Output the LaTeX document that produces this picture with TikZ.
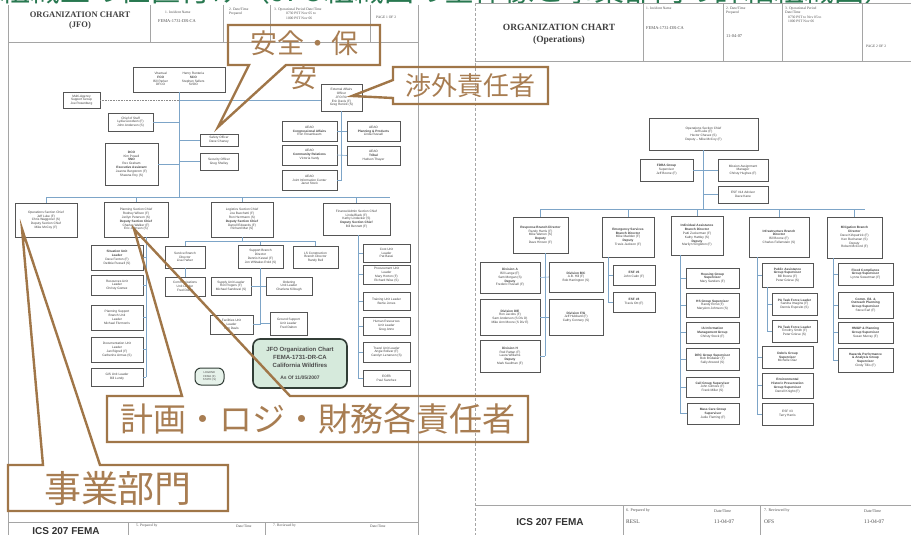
\documentclass[tikz,border=0pt]{standalone}
\usepackage{fontspec}
\setmainfont{Liberation Sans}
\newfontfamily\hdrf{Liberation Serif}
\newfontfamily\cjk{Noto Sans CJK JP}
\definecolor{calb}{RGB}{160,118,72}
\definecolor{calt}{RGB}{168,125,82}
\definecolor{ttlg}{RGB}{40,120,80}
\definecolor{cnb}{RGB}{125,165,200}
\definecolor{boxd}{RGB}{85,85,85}
\definecolor{jfog}{RGB}{214,234,220}
\definecolor{jfod}{RGB}{50,62,55}
\definecolor{pagel}{RGB}{165,165,165}
\newcommand\tinyf{\fontsize{3.2}{3.8}\selectfont}
\newcommand\obox[6]{\node[ob,minimum width={(#4-#2)*1pt},minimum height={(#5-#3)*1pt}] (#1) at ({(#2+#4)/2},{(#3+#5)/2}) {#6};}
\tikzset{
  ob/.style={draw=boxd,line width=0.6,fill=white,font=\tinyf,text=black!75,align=center,inner sep=0.3pt,outer sep=0pt},
  cn/.style={draw=cnb,line width=0.6},
  pg/.style={draw=pagel,line width=0.5},
  cl/.style={draw=calb,line width=2.4,line join=miter},
  ct/.style={text=calt,inner sep=0pt},
  hl/.style={font=\hdrf\fontsize{3.6}{4.2}\selectfont,text=black!70,inner sep=0pt,align=left},
}
\begin{document}
\begin{tikzpicture}
\useasboundingbox (0,0) rectangle (911pt,-535pt);
\begin{scope}[x=1pt,y=-1pt]
\clip (0,0) rectangle (911,535);
\fill[white] (0,0) rectangle (911,535);
% green title (cut off at top)
\node[anchor=base west,text=ttlg,font=\cjk\fontsize{30}{30}\selectfont,inner sep=0] (ttl) at (0,1.5) {組織上の位置付け（JFO組織図の全体像と事業部門の詳細組織図）};

% ---------- left page frame ----------
\draw[pg] (8,5) -- (8,535);
\draw[pg] (418,5) -- (418,535);
\draw[pg] (8,42) -- (418,42);
\foreach \xx in {150,223,270,370} \draw[pg] (\xx,5) -- (\xx,42);
\node[font=\hdrf\bfseries\fontsize{8.5}{10}\selectfont,text=black!75,align=center] (lh1) at (80,21) {ORGANIZATION CHART\\(JFO)};
\node[hl,anchor=north west] (lh2) at (165,11) {1. Incident Name};
\node[hl,anchor=north west,font=\hdrf\fontsize{4.4}{5}\selectfont] (lh3) at (158,19) {FEMA-1731-DR-CA};
\node[hl,anchor=north west] (lh4) at (229,8) {2. Date/Time\\Prepared};
\node[hl,anchor=north west] (lh5) at (274,8) {3. Operational Period Date/Time\\\hspace*{12pt}0730 PST Nov 05 to\\\hspace*{12pt}1000 PST Nov 06};
\node[hl,anchor=north west] (lh6) at (376,16) {PAGE 1 OF 2};
% left footer
\draw[pg] (8,522) -- (418,522);
\draw[pg] (128,522) -- (128,535);
\draw[pg] (265,522) -- (265,535);
\node[anchor=north,font=\bfseries\fontsize{10}{12}\selectfont,text=black!80,inner sep=0] (lf1) at (66,527) {ICS 207 FEMA};
\node[hl,anchor=west] (lf2) at (136,526) {5. Prepared by};
\node[hl,anchor=west] (lf3) at (236,526) {Date/Time};
\node[hl,anchor=west] (lf4) at (273,526) {7. Reviewed by};
\node[hl,anchor=west] (lf5) at (370,526) {Date/Time};

% ---------- left chart ----------
\obox{fco}{133}{67}{225}{92}{\begin{tabular}{@{}c@{\hspace{14pt}}c@{}}Vitactual & Henry Renteria\\ \textbf{FCO} & \textbf{SCO}\\ Bill Parker & Stephen Sellers\\ DFCO & SVDO\end{tabular}}
\obox{mas}{63}{92}{100}{108}{Multi-Agency\\Support Group\\Joe Rosenburg}
\obox{cos}{108}{113}{153}{131}{Chief of Staff\\Lydia Goodson (F)\\John Anderson (S)}
\obox{dco}{105}{143}{158}{185}{\textbf{DCO}\\Kim Powell\\\textbf{SNO}\\Rex Graham\\\textbf{Executive Assistant}\\Jeanne Bergstrom (F)\\Shawna Roy (S)}
\obox{saf}{200}{134}{238}{146}{Safety Officer\\Dave Chaney}
\obox{sec}{200}{153}{238}{170}{Security Officer\\Greg Shelley}
\obox{ext}{321}{84}{362}{111}{External Affairs\\Officer\\JFO Ric\\Eric Davis (F)\\Greg Renick (S)}
\obox{ae1}{282}{121}{337}{141}{AEAO\\\textbf{Congressional Affairs}\\Ron Rosenbaum}
\obox{ae2}{282}{145}{337}{165}{AEAO\\\textbf{Community Relations}\\Victoria Vardy}
\obox{ae3}{282}{170}{337}{190}{AEAO\\Joint Information Center\\Janet Stock}
\obox{ae4}{347}{121}{400}{141}{AEAO\\\textbf{Planning \& Products}\\Linda Russell}
\obox{ae5}{347}{146}{400}{165}{AEAO\\\textbf{Tribal}\\Hudson Thayer}
\obox{opsc}{15}{203}{77}{237}{Operations Section Chief\\Jeff Luke (F)\\Chris Waggoner (S)\\Deputy Section Chief\\Mike McCoy (F)}
\obox{plan}{104}{202}{168}{237}{Planning Section Chief\\Rodney Wilson (F)\\Jerilyn Peterson (S)\\\textbf{Deputy Section Chief}\\Charles Walker (F)\\Eric Johnson (S)}
\obox{logs}{211}{202}{273}{237}{Logistics Section Chief\\Joe Bacchetti (F)\\Ron Herrmann (S)\\\textbf{Deputy Section Chief}\\Darrell Edwards (F)\\Richard Mar (S)}
\obox{fin}{323}{203}{390}{235}{Finance/Admin Section Chief\\Linda Black (F)\\Kathy Lindecker (S)\\\textbf{Deputy Section Chief}\\Bill Bennett (F)}
\obox{sit}{91}{245}{143}{270}{\textbf{Situation Unit}\\\textbf{Leader}\\Dave Fenton (F)\\Debbie Russell (S)}
\obox{res}{91}{275}{143}{295}{Resources Unit\\Leader\\Christy Gomez}
\obox{pss}{91}{305}{143}{330}{Planning Support\\Branch Unit\\Leader\\Michael Fitzmorris}
\obox{doc}{91}{337}{143}{362}{Documentation Unit\\Leader\\Jan Bignell (F)\\Catherine Armas (S)}
\obox{gis}{91}{368}{143}{386}{GIS Unit Leader\\Bill Lundy}
\obox{svc}{165}{246}{205}{268}{Service Branch\\Director\\Lisa Parker}
\obox{sup}{238}{245}{283}{268}{Support Branch\\Director\\Dennis Kessel (F)\\Jon Whitaker-Rold (S)}
\obox{lsc}{293}{246}{338}{268}{LS Construction\\Branch Director\\Randy Bell}
\obox{com}{165}{277}{205}{296}{Communications\\Unit Leader\\Fred Dollar}
\obox{spl}{211}{277}{251}{295}{Supply Unit Leader\\Ron Rogers (F)\\Michael Sandoval (S)}
\obox{ord}{266}{277}{312}{295}{Ordering\\Unit Leader\\Charlene Killough}
\obox{fac}{210}{315}{253}{334}{Facilities Unit\\Leader\\Ken Davis}
\obox{gsu}{270}{312}{307}{335}{Ground Support\\Unit Leader\\Fred Dalton}
\obox{cost}{363}{244}{410}{262}{Cost Unit\\Leader\\Pat Bassi}
\obox{proc}{363}{265}{410}{284}{Procurement Unit\\Leader\\Mary Horton (F)\\Richard Wise (S)}
\obox{trn}{363}{292}{410}{310}{Training Unit Leader\\Bertie Jones}
\obox{hr}{363}{317}{410}{335}{Human Resources\\Unit Leader\\Greg Anno}
\obox{trv}{363}{342}{410}{362}{Travel Unit Leader\\Angie Bolivar (F)\\Carolyn Lenarson (S)}
\obox{eofb}{363}{370}{410}{386}{EOFB\\Paul Sanchez}
\node[draw=jfod,line width=1.6,fill=jfog,rounded corners=7,minimum width=94pt,minimum height=49pt,font=\bfseries\fontsize{6}{7.8}\selectfont,text=black!70,align=center] (jfo) at (300,363.5) {JFO Organization Chart\\FEMA-1731-DR-CA\\California Wildfires\\[4pt]{\fontsize{5}{6}\selectfont As Of 11/05/2007}};
\node[draw=jfod,line width=1,fill=jfog!60,rounded corners=6,minimum width=29pt,minimum height=17pt,font=\fontsize{2.8}{3.4}\selectfont,text=black!70,align=center,inner sep=0] (leg) at (209.5,376.5) {LEGEND\\FEMA (F)\\STATE (S)};

% left connectors
\coordinate (busR) at (390,197);
\draw[cn] (fco.south) -- (fco.south |- busR);
\draw[cn] (cos.east) -- (cos.east -| fco.south);
\draw[cn] (dco.east) -- (dco.east -| fco.south);
\draw[cn] (saf.west) -- (saf.west -| fco.south);
\draw[cn] (sec.west) -- (sec.west -| fco.south);
\draw[cn,densely dotted,draw=black!45] (mas.east) -- (mas.east -| fco.south);
\draw[cn] (fco.south |- mas.east) -- (ext.west |- mas.east);
\draw[cn] (ext.south) -- (ext.south |- ae3.east);
\draw[cn] (ae1.east) -- (ae4.west);
\draw[cn] (ae2.east) -- (ae5.west);
\draw[cn] (ae3.east) -- (ae3.east -| ext.south);
\draw[cn] (opsc.north) |- (busR);
\draw[cn] (plan.north) -- (plan.north |- busR);
\draw[cn] (logs.north) -- (logs.north |- busR);
\draw[cn] (fin.north) -- (fin.north |- busR);
\coordinate (pv) at (146,237);
\draw[cn] (pv) -- (pv |- gis.east);
\foreach \n in {sit,res,pss,doc,gis} \draw[cn] (\n.east) -- (\n.east -| pv);
\coordinate (lbus) at (0,241);
\draw[cn] (logs.south) -- (logs.south |- lbus);
\draw[cn] (svc.north) |- (lsc.north |- lbus) -- (lsc.north);
\draw[cn] (sup.north) -- (sup.north |- lbus);
\draw[cn] (svc.south) -- (com.north);
\draw[cn] (sup.south) -- (sup.south |- fac.east);
\draw[cn] (spl.east) -- (ord.west);
\draw[cn] (fac.east) -- (fac.east -| sup.south);
\draw[cn] (gsu.west) -- (gsu.west -| sup.south);
\coordinate (fv) at (358,235);
\draw[cn] (fv) -- (fv |- eofb.west);
\foreach \n in {cost,proc,trn,hr,trv,eofb} \draw[cn] (\n.west) -- (\n.west -| fv);

% ---------- right page frame ----------
\draw[pg,densely dashed] (475,3) -- (475,535);
\draw[pg] (475,3) -- (911,3);
\draw[pg] (475,61) -- (911,61);
\foreach \xx in {643,723,782,862} \draw[pg] (\xx,3) -- (\xx,61);
\node[font=\hdrf\bfseries\fontsize{9.5}{12}\selectfont,text=black!75,align=center] (rh1) at (559,34) {ORGANIZATION CHART\\(Operations)};
\node[hl,anchor=north west] (rh2) at (646,7) {1. Incident Name};
\node[hl,anchor=west,font=\hdrf\fontsize{4.4}{5}\selectfont] (rh3) at (646,28) {FEMA-1731-DR-CA};
\node[hl,anchor=north west] (rh4) at (726,7) {2. Date/Time\\Prepared};
\node[hl,anchor=west,font=\hdrf\fontsize{4.4}{5}\selectfont] (rh5) at (726,36) {11-04-07};
\node[hl,anchor=north west] (rh6) at (785,7) {3. Operational Period\\Date/Time\\\hspace*{3pt}0730 PST to Nov 05 to\\\hspace*{3pt}1000 PST Nov 06};
\node[hl,anchor=west] (rh7) at (866,46) {PAGE 2 OF 2};
% right footer
\draw[pg] (475,505) -- (911,505);
\draw[pg] (623,505) -- (623,535);
\draw[pg] (760,505) -- (760,535);
\node[font=\bfseries\fontsize{10}{12}\selectfont,text=black!80,inner sep=0] (rf1) at (550,522) {ICS 207 FEMA};
\node[hl,anchor=west,font=\hdrf\fontsize{4}{5}\selectfont] (rf2) at (626,511) {6. Prepared by};
\node[hl,anchor=west,font=\hdrf\fontsize{5.5}{6}\selectfont] (rf3) at (626,522) {RESL};
\node[hl,anchor=west,font=\hdrf\fontsize{4}{5}\selectfont] (rf4) at (714,511) {Date/Time};
\node[hl,anchor=west,font=\hdrf\fontsize{5.5}{6}\selectfont] (rf5) at (714,522) {11-04-07};
\node[hl,anchor=west,font=\hdrf\fontsize{4}{5}\selectfont] (rf6) at (764,511) {7. Reviewed by};
\node[hl,anchor=west,font=\hdrf\fontsize{5.5}{6}\selectfont] (rf7) at (764,522) {OFS};
\node[hl,anchor=west,font=\hdrf\fontsize{4}{5}\selectfont] (rf8) at (864,511) {Date/Time};
\node[hl,anchor=west,font=\hdrf\fontsize{5.5}{6}\selectfont] (rf9) at (864,522) {11-04-07};

% ---------- right chart ----------
\obox{opsR}{649}{118}{758}{150}{Operations Section Chief\\Jeff Luke (F)\\Hector Chavez (S)\\Deputy -- Mike McCoy (F)}
\obox{fdra}{640}{159}{693}{181}{\textbf{FDRA Group}\\Supervisor\\Jeff Boone (F)}
\obox{mam}{718}{159}{768}{181}{Mission Assignment\\Manager\\Christy Hughes (F)}
\obox{esf14}{718}{186}{768}{203}{ESF \#14 Advisor\\Dave Kane}
\obox{resp}{513}{217}{568}{253}{\textbf{Response Branch Director}\\Randy Harris (F)\\Mike Warren (S)\\\textbf{Deputy}\\Dave Hinson (F)}
\obox{es}{602}{217}{654}{257}{\textbf{Emergency Services}\\\textbf{Branch Director}\\Mike Madden (F)\\\textbf{Deputy}\\Travis Jackson (F)}
\obox{ia}{671}{216}{723}{255}{\textbf{Individual Assistance}\\\textbf{Branch Director}\\Patti Zuckerman (F)\\Kathy Hattley (S)\\\textbf{Deputy}\\Marilyn Singleton (F)}
\obox{infra}{749}{217}{809}{257}{\textbf{Infrastructure Branch}\\\textbf{Director}\\Bill Boone (F)\\Charles Fellenstein (S)}
\obox{mit}{827}{217}{882}{258}{\textbf{Mitigation Branch}\\\textbf{Director}\\Dave Kirkpatrick (F)\\Ken Buchanan (S)\\Deputy\\Robert McCord (F)}
\obox{divA}{480}{262}{540}{293}{\textbf{Division A}\\Bill Lange (F)\\Sam Morgan (S)\\\textbf{Deputy}\\Frederic Russell (F)}
\obox{divDE}{480}{299}{540}{335}{\textbf{Division D/E}\\Ron Jacobs (F)\\Sam Anderson (S Div D)\\Mike Ann Moore (S Div E)}
\obox{divH}{480}{340}{540}{372}{\textbf{Division H}\\Rod Pattan (F)\\Laura Williams\\\textbf{Deputy}\\Mark Kaufman (F)}
\obox{divBC}{549}{262}{603}{292}{\textbf{Division B/C}\\A.B. Hill (F)\\Bob Harrington (S)}
\obox{divFG}{549}{299}{603}{335}{\textbf{Division F/G}\\Jeff Hubbard (F)\\Cathy Connery (S)}
\obox{esf6}{613}{265}{655}{285}{\textbf{ESF \#6}\\John Catin (F)}
\obox{esf8}{613}{292}{655}{312}{\textbf{ESF \#8}\\Travis Ott (F)}
\obox{hous}{686}{268}{739}{288}{\textbf{Housing Group}\\\textbf{Supervisor}\\Mary Sanders (F)}
\obox{hs}{686}{293}{739}{317}{\textbf{HS Group Supervisor}\\Randy Ernst (F)\\MaryAnn Johnson (S)}
\obox{iaim}{686}{322}{739}{343}{\textbf{IA Information}\\\textbf{Management Group}\\Christy Stock (F)}
\obox{drc}{686}{348}{739}{370}{\textbf{DRC Group Supervisor}\\Bob Brubaker (F)\\Sally Atwood (S)}
\obox{call}{686}{377}{739}{397}{\textbf{Call Group Supervisor}\\John Gilmore (F)\\Frank Miller (S)}
\obox{mcare}{687}{403}{739}{424}{\textbf{Mass Care Group}\\\textbf{Supervisor}\\Judie Fleming (F)}
\obox{pa}{762}{263}{813}{287}{\textbf{Public Assistance}\\\textbf{Group Supervisor}\\Bill Boone (F)\\Peter Grieve (S)}
\obox{patf1}{772}{293}{817}{315}{\textbf{PA Task Force Leader}\\Sandra Imagine (F)\\Dennis Esposito (S)}
\obox{patf2}{772}{320}{817}{342}{\textbf{PA Task Force Leader}\\Timothy Smith (F)\\Peter Grieve (S)}
\obox{debris}{762}{346}{813}{368}{\textbf{Debris Group}\\\textbf{Supervisor}\\Michelle Diaz}
\obox{ehp}{762}{373}{813}{398}{\textbf{Environmental}\\\textbf{Historic Preservation}\\\textbf{Group Supervisor}\\Darrell Knight (F)}
\obox{esf3}{762}{403}{813}{425}{ESF \#3\\Terry Harris}
\obox{flood}{838}{263}{893}{285}{\textbf{Flood Compliance}\\\textbf{Group Supervisor}\\Lynne Sweetman (F)}
\obox{comm}{838}{292}{893}{318}{\textbf{Comm. Ed. \&}\\\textbf{Outreach Planning}\\\textbf{Group Supervisor}\\Steve Earl (F)}
\obox{hmgp}{838}{322}{893}{343}{\textbf{HMGP \& Planning}\\\textbf{Group Supervisor}\\Susan Murray (F)}
\obox{haz}{838}{348}{893}{372}{\textbf{Hazards Performance}\\\textbf{\& Analysis Group}\\\textbf{Supervisor}\\Cindy Tillis (F)}

% right connectors
\coordinate (rbusR) at (865,209);
\draw[cn] (opsR.south) -- (opsR.south |- rbusR);
\draw[cn] (fdra.east) -- (mam.west);
\draw[cn] (esf14.west) -- (esf14.west -| opsR.south);
\draw[cn] (resp.north) |- (rbusR);
\draw[cn] (es.north) -- (es.north |- rbusR);
\draw[cn] (ia.north) -- (ia.north |- rbusR);
\draw[cn] (infra.north) -- (infra.north |- rbusR);
\draw[cn] (mit.north) -- (mit.north |- rbusR);
\coordinate (rv) at (545,253);
\draw[cn] (rv) -- (rv |- divH.east);
\draw[cn] (divA.east) -- (divBC.west);
\draw[cn] (divDE.east) -- (divFG.west);
\draw[cn] (divH.east) -- (divH.east -| rv);
\coordinate (esv) at (608,257);
\draw[cn] (esv) -- (esv |- esf8.west);
\foreach \n in {esf6,esf8} \draw[cn] (\n.west) -- (\n.west -| esv);
\coordinate (iav) at (680,255);
\draw[cn] (iav) -- (iav |- mcare.west);
\foreach \n in {hous,hs,iaim,drc,call,mcare} \draw[cn] (\n.west) -- (\n.west -| iav);
\coordinate (infv) at (757,257);
\draw[cn] (infv) -- (infv |- esf3.west);
\foreach \n in {pa,debris,ehp,esf3} \draw[cn] (\n.west) -- (\n.west -| infv);
\coordinate (pav) at (767,287);
\draw[cn] (pav) -- (pav |- patf2.west);
\foreach \n in {patf1,patf2} \draw[cn] (\n.west) -- (\n.west -| pav);
\coordinate (mv) at (833,258);
\draw[cn] (mv) -- (mv |- haz.west);
\foreach \n in {flood,comm,hmgp,haz} \draw[cn] (\n.west) -- (\n.west -| mv);

% ---------- callouts ----------
\coordinate (t1) at (218,127);
\draw[cl] (228,25) -- (380,25) -- (380,65) -- (286,65) -- (t1) -- (249,65) -- (228,65) -- cycle;
\node[ct,font=\cjk\fontsize{27}{34}\selectfont,align=center] (c1) at (304,60) {安全・保\\安};
\coordinate (t2) at (352,96);
\draw[cl] (393,67) -- (548,67) -- (548,104) -- (393,104) -- (393,98) -- (t2) -- (393,80) -- cycle;
\node[ct,font=\cjk\fontsize{26}{30}\selectfont] (c2) at (470,86) {渉外責任者};
\coordinate (t3) at (134,229);
\draw[cl] (107,396) -- (182,396) -- (t3) -- (290,396) -- (528,396) -- (528,442) -- (107,442) -- cycle;
\node[ct,font=\cjk\fontsize{33}{36}\selectfont] (c3) at (318,419) {計画・ロジ・財務各責任者};
\coordinate (t4) at (22,229);
\draw[cl] (8,465) -- (43,465) -- (t4) -- (100,465) -- (228,465) -- (228,511) -- (8,511) -- cycle;
\node[ct,font=\cjk\fontsize{37}{40}\selectfont] (c4) at (118,488) {事業部門};
\end{scope}
\end{tikzpicture}
\end{document}
